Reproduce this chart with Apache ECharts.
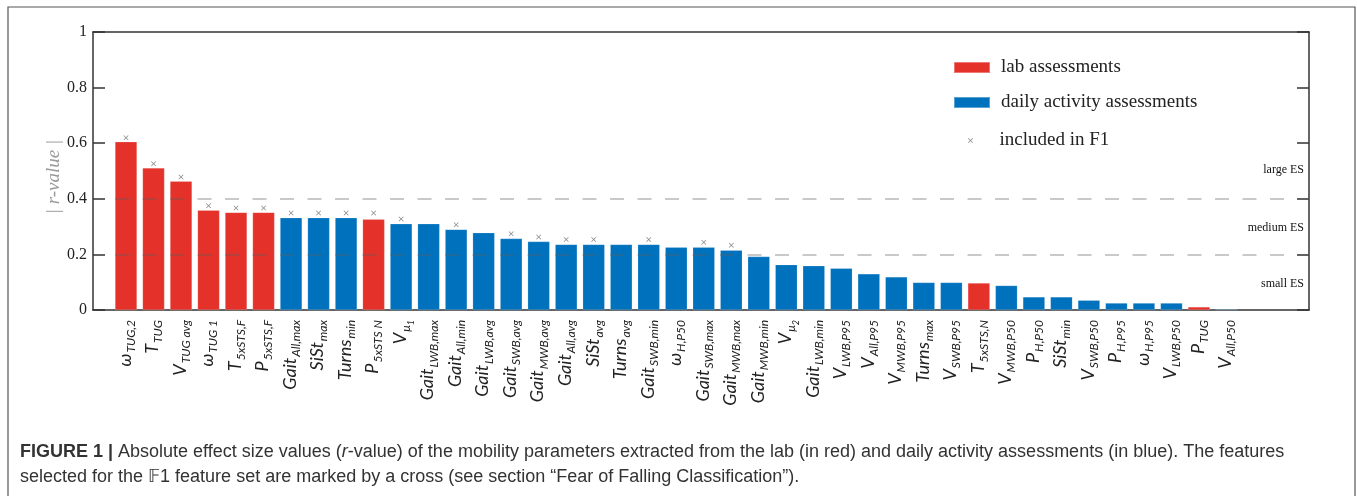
<!DOCTYPE html>
<html>
<head>
<meta charset="utf-8">
<script src="https://cdn.jsdelivr.net/npm/echarts@6/dist/echarts.min.js"></script>
<style>
  html, body { margin: 0; padding: 0; background: #fff; }
  #chart { width: 1357px; height: 496px; }
</style>
</head>
<body>
<div id="chart"></div>
<script>
// feature names: main symbol, subscript, second-level subscript
const labelMain = ['ω', 'T', 'V', 'ω', 'T', 'P', 'Gait', 'SiSt', 'Turns', 'P',
  'V', 'Gait', 'Gait', 'Gait', 'Gait', 'Gait', 'Gait', 'SiSt', 'Turns', 'Gait',
  'ω', 'Gait', 'Gait', 'Gait', 'V', 'Gait', 'V', 'V', 'V', 'Turns',
  'V', 'T', 'V', 'P', 'SiSt', 'V', 'P', 'ω', 'V', 'P', 'V']
const labelSub = ['TUG,2', 'TUG', 'TUG avg', 'TUG 1', '5xSTS,F', '5xSTS,F', 'All,max', 'max', 'min', '5xSTS N',
  'μ', 'LWB,max', 'All,min', 'LWB,avg', 'SWB,avg', 'MWB,avg', 'All,avg', 'avg', 'avg', 'SWB,min',
  'H,P50', 'SWB,max', 'MWB,max', 'MWB,min', 'μ', 'LWB,min', 'LWB,P95', 'All,P95', 'MWB,P95', 'max',
  'SWB,P95', '5xSTS,N', 'MWB,P50', 'H,P50', 'min', 'SWB,P50', 'H,P95', 'H,P95', 'LWB,P50', 'TUG', 'All,P50']
const labelSubSub = ['', '', '', '', '', '', '', '', '', '',
  '1', '', '', '', '', '', '', '', '', '',
  '', '', '', '', '2', '', '', '', '', '',
  '', '', '', '', '', '', '', '', '', '', '']

// |r-value| per feature
const rValues = [0.605, 0.511, 0.463, 0.359, 0.351, 0.351, 0.332, 0.332, 0.332, 0.326,
  0.310, 0.310, 0.290, 0.278, 0.257, 0.246, 0.236, 0.236, 0.236, 0.236,
  0.226, 0.226, 0.215, 0.192, 0.163, 0.159, 0.150, 0.130, 0.119, 0.099,
  0.099, 0.097, 0.088, 0.047, 0.047, 0.035, 0.025, 0.025, 0.025, 0.011, 0.003]

// 'L' = lab assessment, 'D' = daily activity assessment
const source = ['L', 'L', 'L', 'L', 'L', 'L', 'D', 'D', 'D', 'L',
  'D', 'D', 'D', 'D', 'D', 'D', 'D', 'D', 'D', 'D',
  'D', 'D', 'D', 'D', 'D', 'D', 'D', 'D', 'D', 'D',
  'D', 'L', 'D', 'D', 'D', 'D', 'D', 'D', 'D', 'L', 'D']

// cross markers (features included in F1), null = not included
const crossValues = [0.620, 0.526, 0.478, 0.375, 0.367, 0.367, 0.349, 0.349, 0.349, 0.349,
  0.327, null, 0.307, null, 0.274, 0.263, 0.254, 0.254, null, 0.254,
  null, 0.244, 0.233, null, null, null, null, null, null, null,
  null, null, null, null, null, null, null, null, null, null, null]

const esThresholds = [0.2, 0.4]
const esLabels = ['large ES', 'medium ES', 'small ES']
const esLabelY = [0.505, 0.294, 0.093]
const yTicks = [0, 0.2, 0.4, 0.6, 0.8, 1]

const RED = '#e4312a'
const BLUE = '#0071bd'
const xMin = -0.2
const xMax = 44

const positions = rValues.map((v, i) => i + 1)
const labData = rValues.map((v, i) => source[i] === 'L' ? [positions[i], v] : [positions[i], '-'])
const dailyData = rValues.map((v, i) => source[i] === 'D' ? [positions[i], v] : [positions[i], '-'])
const crossData = crossValues.map((v, i) => [positions[i], v === null ? '-' : v])

const crossPath = 'path://M0,1L1,0L5,4L9,0L10,1L6,5L10,9L9,10L5,6L1,10L0,9L4,5Z'

const formatLabel = (val) => {
  const i = Math.round(val) - 1
  if (i < 0 || i >= labelMain.length) return ''
  let s = '{m|' + labelMain[i] + '}{s|' + labelSub[i] + '}'
  if (labelSubSub[i]) s += '{ss|' + labelSubSub[i] + '}'
  return s
}

const chart = echarts.init(document.getElementById('chart'))

const axisLineStyle = { color: '#333', width: 1.5 }
const legendText = { fontFamily: 'Liberation Serif', fontSize: 19, color: '#222', padding: [0, 0, 0, 6] }

chart.setOption({
  animation: false,
  grid: { left: 93, right: 48, top: 32, bottom: 186 },
  legend: [
    {
      data: ['lab assessments', 'daily activity assessments'],
      orient: 'vertical',
      left: 953,
      top: 58,
      padding: 0,
      icon: 'rect',
      itemWidth: 36,
      itemHeight: 11,
      itemGap: 16,
      selectedMode: false,
      textStyle: legendText
    },
    {
      data: ['included in F1'],
      orient: 'vertical',
      left: 968,
      top: 131,
      padding: 0,
      itemWidth: 36,
      itemHeight: 5,
      selectedMode: false,
      textStyle: legendText
    }
  ],
  xAxis: [
    {
      type: 'value',
      position: 'bottom',
      min: xMin,
      max: xMax,
      splitLine: { show: false },
      axisLine: { show: true, onZero: false, lineStyle: axisLineStyle },
      axisTick: { show: false },
      axisLabel: {
        customValues: positions,
        rotate: 90,
        margin: 10,
        formatter: formatLabel,
        rich: {
          m: { fontFamily: 'Lato', fontStyle: 'italic', fontSize: 18, color: '#222', lineHeight: 20, verticalAlign: 'top' },
          s: { fontFamily: 'Lato', fontStyle: 'italic', fontSize: 12, color: '#222', lineHeight: 13, padding: [9, 0, 0, 1], verticalAlign: 'top' },
          ss: { fontFamily: 'Lato', fontStyle: 'italic', fontSize: 9, color: '#222', lineHeight: 10, padding: [15, 0, 0, 0], verticalAlign: 'top' }
        }
      }
    },
    {
      type: 'value',
      position: 'top',
      min: xMin,
      max: xMax,
      splitLine: { show: false },
      axisLine: { show: true, onZero: false, lineStyle: axisLineStyle },
      axisTick: { show: false },
      axisLabel: { show: false }
    }
  ],
  yAxis: [
    {
      type: 'value',
      min: 0,
      max: 1,
      interval: 0.2,
      name: '| r-value |',
      nameLocation: 'middle',
      nameGap: 30,
      nameMoveOverlap: false,
      nameTextStyle: { fontFamily: 'Liberation Serif', fontStyle: 'italic', fontSize: 19, color: '#9a9a9a', padding: [0, 12, 0, 0] },
      splitLine: { show: false },
      axisLine: { show: true, onZero: false, lineStyle: axisLineStyle },
      axisTick: { show: true, inside: true, length: 12, lineStyle: axisLineStyle },
      axisLabel: {
        customValues: yTicks,
        fontFamily: 'Liberation Serif',
        fontSize: 16,
        color: '#222',
        margin: 6
      }
    },
    {
      type: 'value',
      position: 'right',
      min: 0,
      max: 1,
      interval: 0.2,
      splitLine: { show: false },
      axisLine: { show: true, onZero: false, lineStyle: axisLineStyle },
      axisTick: { show: true, inside: true, length: 12, lineStyle: axisLineStyle },
      axisLabel: { show: false }
    }
  ],
  series: [
    {
      name: 'lab assessments',
      type: 'bar',
      data: labData,
      barWidth: 22,
      barGap: '-100%',
      itemStyle: { color: RED, borderColor: 'rgba(255,255,255,0.35)', borderWidth: 0.5 }
    },
    {
      name: 'daily activity assessments',
      type: 'bar',
      data: dailyData,
      barWidth: 22,
      barGap: '-100%',
      itemStyle: { color: BLUE, borderColor: 'rgba(255,255,255,0.35)', borderWidth: 0.5 }
    },
    {
      name: 'included in F1',
      type: 'scatter',
      data: crossData,
      symbol: crossPath,
      symbolSize: 5,
      z: 5,
      itemStyle: { color: '#666' },
      markLine: {
        silent: true,
        symbol: 'none',
        label: { show: false },
        lineStyle: { color: 'rgba(95,95,95,0.45)', width: 1.5, type: [14, 13.5] },
        data: esThresholds.map(t => [{ coord: [0.6, t] }, { coord: [xMax, t] }])
      },
      markPoint: {
        silent: true,
        symbol: 'circle',
        symbolSize: 0,
        label: {
          show: true,
          position: 'left',
          distance: 5,
          fontFamily: 'Liberation Serif',
          fontSize: 12,
          color: '#111',
          formatter: p => p.name
        },
        data: esLabels.map((name, i) => ({ name, coord: [xMax, esLabelY[i]] }))
      }
    }
  ],
  graphic: [
    {
      type: 'rect',
      silent: true,
      shape: { x: 8, y: 7, width: 1347, height: 520 },
      style: { fill: 'none', stroke: '#555', lineWidth: 1.2 }
    },
    {
      type: 'text',
      left: 20,
      top: 443,
      style: {
        text: '{b|FIGURE 1 |} Absolute effect size values ({i|r}-value) of the mobility parameters extracted from the lab (in red) and daily activity assessments (in blue). The features',
        fontFamily: 'Liberation Sans',
        fontSize: 18,
        fill: '#333',
        rich: {
          b: { fontFamily: 'Liberation Sans', fontSize: 18, fontWeight: 'bold', fill: '#333' },
          i: { fontFamily: 'Liberation Sans', fontSize: 18, fontStyle: 'italic', fill: '#333' }
        }
      }
    },
    {
      type: 'text',
      left: 20,
      top: 468,
      style: {
        text: 'selected for the 𝔽1 feature set are marked by a cross (see section “Fear of Falling Classification”).',
        fontFamily: 'Liberation Sans',
        fontSize: 18,
        fill: '#333'
      }
    }
  ]
})

window.addEventListener('resize', () => chart.resize())
</script>
</body>
</html>
